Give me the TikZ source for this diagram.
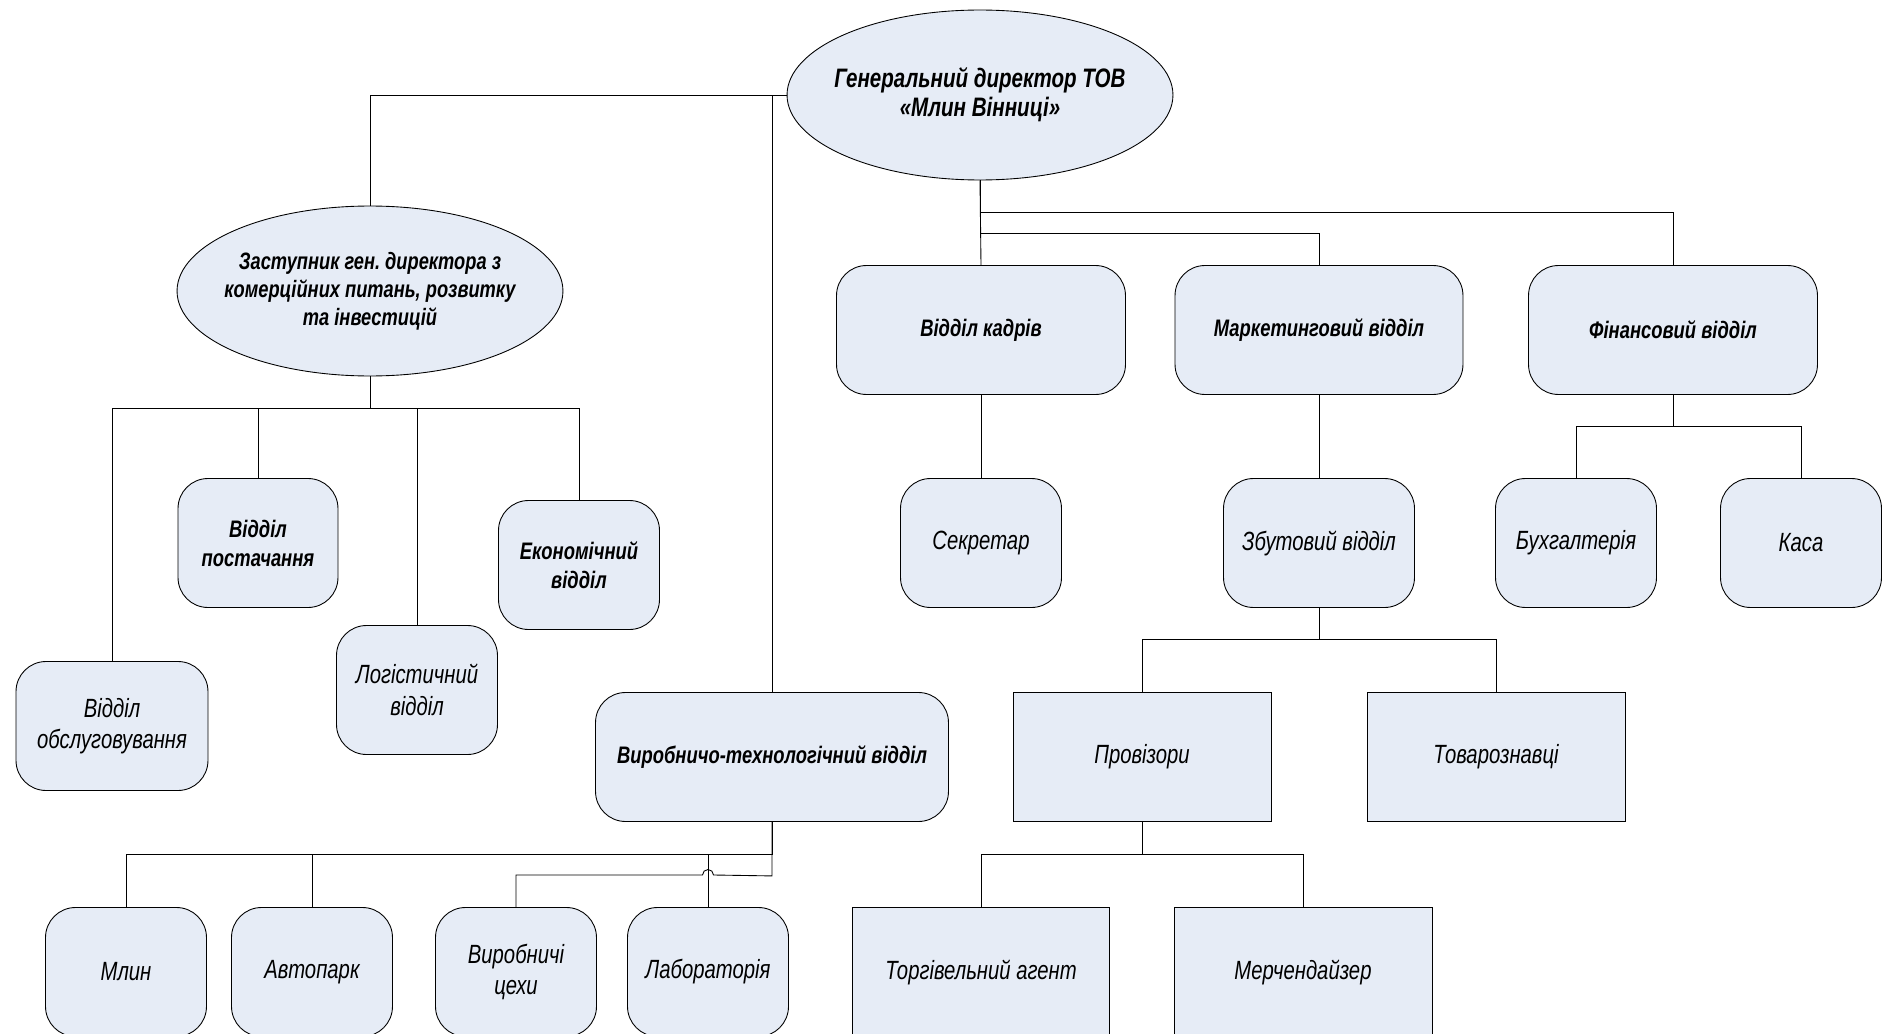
\documentclass[tikz,border=0pt]{standalone}
\usepackage{fontspec}
\setmainfont[FakeStretch=0.77]{Liberation Sans}
\usetikzlibrary{positioning}
\usetikzlibrary{shapes}
\definecolor{boxfill}{RGB}{230,236,246}
\frenchspacing

\begin{document}
\begin{tikzpicture}[x=0.02cm, y=-0.02cm, line width=0.5pt,
    boss/.style={draw, ellipse, fill=boxfill, minimum width=7.72cm, minimum height=3.4cm, align=center, inner xsep=-1cm, inner ysep=-0.5cm, font=\fontsize{15.2}{16.5}\selectfont\bfseries\itshape},
    unit/.style={draw, fill=boxfill, rounded corners=0.6cm, minimum height=2.58cm, align=center, inner sep=0pt, font=\fontsize{15}{18}\selectfont\itshape},
    head/.style={unit, font=\fontsize{13.6}{16.5}\selectfont\bfseries\itshape},
    staff/.style={draw, fill=boxfill, minimum height=2.58cm, align=center, inner sep=0pt, font=\fontsize{15}{18}\selectfont\itshape}]
    \clip (0,0) rectangle (1884,1034);

    % Top level
    \node[boss] (gen) at (980,95) {Генеральний директор ТОВ\\«Млин Вінниці»};
    \node[boss, font=\fontsize{13.5}{16}\selectfont\bfseries\itshape] (zast) at (370,291)
        {Заступник ген. директора з\\комерційних питань, розвитку\\та інвестицій};

    % Deputy's departments
    \node[head, minimum width=3.2cm] (post) at (258,543) {Відділ\\постачання};
    \node[head, minimum width=3.22cm] (ekon) at (579,565) {Економічний\\відділ};
    \node[unit, minimum width=3.22cm] (logi) at (417,690) {Логістичний\\відділ};
    \node[unit, minimum width=3.84cm] (obsl) at (112,726) {Відділ\\обслуговування};

    % Production
    \node[head, minimum width=7.06cm] (vyr) at (772,757) {Виробничо-технологічний відділ};
    \node[unit, minimum width=3.22cm] (mlyn) at (126,972) {Млин};
    \node[unit, minimum width=3.22cm] (avto) at (312,972) {Автопарк};
    \node[unit, minimum width=3.22cm] (cekh) at (516,972) {Виробничі\\цехи};
    \node[unit, minimum width=3.22cm] (lab) at (708,972) {Лабораторія};

    % Director's departments
    \node[head, minimum width=5.78cm] (kadr) at (981,330) {Відділ кадрів};
    \node[head, minimum width=5.76cm] (mark) at (1319,330) {Маркетинговий відділ};
    \node[head, minimum width=5.78cm] (fin) at (1673,330) {Фінансовий відділ};
    \node[unit, minimum width=3.22cm] (sekr) at (981,543) {Секретар};
    \node[unit, minimum width=3.82cm] (zbut) at (1319,543) {Збутовий відділ};
    \node[unit, minimum width=3.22cm] (bukh) at (1576,543) {Бухгалтерія};
    \node[unit, minimum width=3.22cm] (kasa) at (1801,543) {Каса};

    % Sales staff
    \node[staff, minimum width=5.16cm] (prov) at (1142,757) {Провізори};
    \node[staff, minimum width=5.16cm] (tovar) at (1496,757) {Товарознавці};
    \node[staff, minimum width=5.14cm] (torh) at (981,972) {Торгівельний агент};
    \node[staff, minimum width=5.16cm] (merch) at (1303,972) {Мерчендайзер};

    % Links
    \draw (gen.west) -| (zast.north);
    \draw (vyr.north) -- (vyr.north |- gen.west);
    \foreach \n in {obsl, post, logi, ekon}
        \draw (zast.south) -- ++(0,32) -| (\n.north);
    \draw (gen.south) -- (kadr.north);
    \draw (gen.south) -- ++(0,53) -| (mark.north);
    \draw (gen.south) -- ++(0,32) -| (fin.north);
    \draw (kadr.south) -- (sekr.north);
    \draw (mark.south) -- (zbut.north);
    \foreach \n in {bukh, kasa}
        \draw (fin.south) -- ++(0,32) -| (\n.north);
    \foreach \n in {prov, tovar}
        \draw (zbut.south) -- ++(0,32) -| (\n.north);
    \foreach \n in {torh, merch}
        \draw (prov.south) -- ++(0,33) -| (\n.north);
    \foreach \n in {mlyn, avto, lab}
        \draw (vyr.south) -- ++(0,33) -| (\n.north);
    \draw (vyr.south) -- ++(0,54) -- ([xshift=0.11cm]lab.north |- 0,875)
        arc[start angle=0, end angle=180, radius=0.11cm] -| (cekh.north);
\end{tikzpicture}
\end{document}
